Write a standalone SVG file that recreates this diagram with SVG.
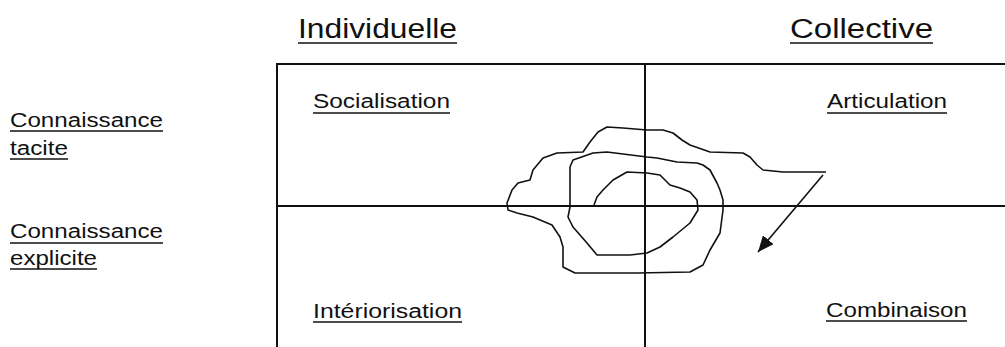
<svg xmlns="http://www.w3.org/2000/svg" width="1005" height="347" viewBox="0 0 1005 347">
<style>
.t{font-family:"Liberation Sans",Arial,sans-serif;fill:#111;}
.h{font-size:27px;}
.q{font-size:20px;}
.u{stroke:#111;stroke-width:1.6;}
.g{stroke:#111;stroke-width:2;fill:none;}
.c{stroke:#111;stroke-width:1.6;fill:none;stroke-linejoin:round;}
</style>
<defs>
<marker id="ah" viewBox="0 0 16 14" refX="16" refY="7" markerWidth="16" markerHeight="14" markerUnits="userSpaceOnUse" orient="auto">
<path d="M0,0 L16,7 L0,14 z" fill="#111"/>
</marker>
</defs>
<rect width="1005" height="347" fill="#fff"/>
<g id="grid">
<line class="g" x1="277" y1="64" x2="277" y2="347"/>
<line class="g" x1="276" y1="64" x2="1005" y2="64"/>
<line class="g" x1="645" y1="64" x2="645" y2="347"/>
<line class="g" x1="277" y1="206" x2="1005" y2="206"/>
</g>
<g id="col-individuelle"><text class="t h" x="298" y="38" textLength="159" lengthAdjust="spacingAndGlyphs">Individuelle</text><line class="u" x1="298" y1="43" x2="457" y2="43"/></g>
<g id="col-collective"><text class="t h" x="790" y="38" textLength="143" lengthAdjust="spacingAndGlyphs">Collective</text><line class="u" x1="790" y1="43" x2="933" y2="43"/></g>
<g id="row-tacite"><text class="t q" x="10" y="127" textLength="153" lengthAdjust="spacingAndGlyphs">Connaissance</text><line class="u" x1="10" y1="131" x2="163" y2="131"/><text class="t q" x="10" y="155" textLength="58" lengthAdjust="spacingAndGlyphs">tacite</text><line class="u" x1="10" y1="159" x2="68" y2="159"/></g>
<g id="row-explicite"><text class="t q" x="10" y="238" textLength="153" lengthAdjust="spacingAndGlyphs">Connaissance</text><line class="u" x1="10" y1="243" x2="163" y2="243"/><text class="t q" x="10" y="265" textLength="87" lengthAdjust="spacingAndGlyphs">explicite</text><line class="u" x1="10" y1="269" x2="97" y2="269"/></g>
<g id="socialisation"><text class="t q" x="313" y="108" textLength="137" lengthAdjust="spacingAndGlyphs">Socialisation</text><line class="u" x1="313" y1="113" x2="450" y2="113"/></g>
<g id="articulation"><text class="t q" x="827" y="108" textLength="120" lengthAdjust="spacingAndGlyphs">Articulation</text><line class="u" x1="827" y1="113" x2="947" y2="113"/></g>
<g id="interiorisation"><text class="t q" x="313" y="318" textLength="149" lengthAdjust="spacingAndGlyphs">Intériorisation</text><line class="u" x1="313" y1="322" x2="462" y2="322"/></g>
<g id="combinaison"><text class="t q" x="826" y="317" textLength="141" lengthAdjust="spacingAndGlyphs">Combinaison</text><line class="u" x1="826" y1="321" x2="967" y2="321"/></g>
<g id="connectors">
<path class="c" d="M826,172 L783,172 L763,170 L757,165 L750,157 L743,153 L710,152 L690,145 L682,140 L673,133 L663,130 L647,130 L623,128 L607,127 L598,132 L590,142 L583,152 L557,153 L543,158 L533,170 L530,180 L518,183 L512,190 L507,203 L508,210 L517,213 L533,217 L552,225 L560,237 L563,247 L563,267 L575,273 L637,273 L690,272 L703,265 L710,250 L720,233 L723,210 L723,200 L720,190 L717,183 L710,170 L703,165 L697,163 L677,162 L657,158 L647,157 L607,152 L593,153 L573,160 L570,167 L570,207 L568,217 L573,227 L587,243 L597,255 L630,255 L647,253 L660,247 L673,237 L690,223 L698,210 L697,200 L690,192 L680,188 L670,185 L660,175 L647,173 L627,172 L613,180 L603,190 L597,197 L594,205"/>
<line class="c" x1="823" y1="175" x2="758" y2="252" marker-end="url(#ah)"/>
</g>
</svg>
